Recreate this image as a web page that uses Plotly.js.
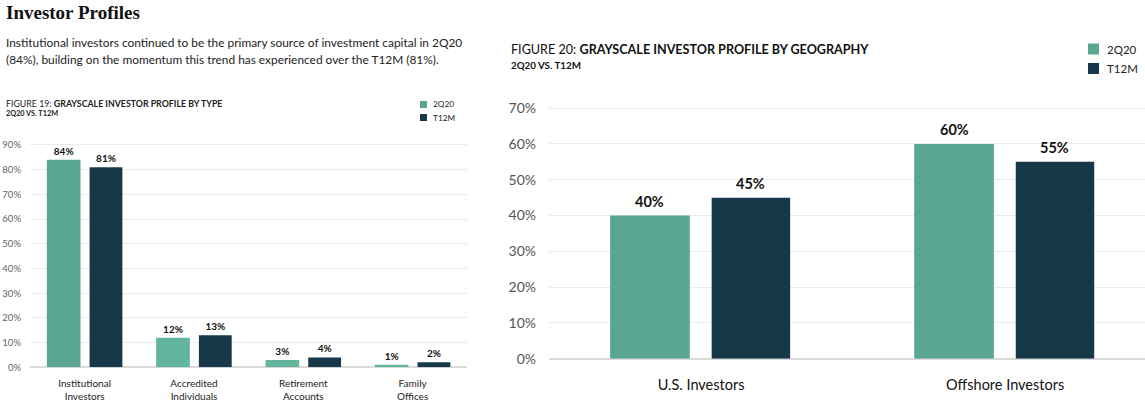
<!DOCTYPE html>
<html><head><meta charset="utf-8">
<script src="https://cdn.plot.ly/plotly-3.0.1.min.js"></script>
<style>html,body{margin:0;padding:0;background:#fff;overflow:hidden;width:1145px;height:412px}#chart{width:1145px;height:412px;display:block}</style>
</head><body><div id="chart"></div>
<script>
// Figure 19 data
const typeCategories = ['Institutional<br>Investors', 'Accredited<br>Individuals', 'Retirement<br>Accounts', 'Family<br>Offices'];
const type2Q20 = [84, 12, 3, 1];
const typeT12M = [81, 13, 4, 2];
// Figure 20 data
const geoCategories = ['U.S. Investors', 'Offshore Investors'];
const geo2Q20 = [40, 60];
const geoT12M = [45, 55];
const seriesNames = ['2Q20', 'T12M'];

const W = 1145, H = 412;
const GREEN = '#5ba690', GREEN_LIGHT = '#62b69e', NAVY = '#163848';
const FONT = 'Lato, "Noto Sans", sans-serif';
const px = x => x / W, py = y => 1 - y / H;

// right chart geometry (styles)
const X2_START = 549, X2_RANGE = [-0.5, 1.46];
const unit2 = (W - X2_START) / (X2_RANGE[1] - X2_RANGE[0]);
const geoBar = [{width:0.262, offset:-0.299}, {width:0.258, offset:0.035}];

const traces = [
  {type:'bar', x:typeCategories, y:type2Q20, name:seriesNames[0], xaxis:'x', yaxis:'y',
   marker:{color:[GREEN, GREEN_LIGHT, GREEN_LIGHT, GREEN_LIGHT]}, width:0.308, offset:-0.346,
   texttemplate:'%{y}', textposition:'outside', cliponaxis:false,
   textfont:{family:FONT, size:10, color:'#111', weight:'bold'}},
  {type:'bar', x:typeCategories, y:typeT12M, name:seriesNames[1], xaxis:'x', yaxis:'y',
   marker:{color:NAVY}, width:0.30, offset:0.045,
   texttemplate:'%{y}', textposition:'outside', cliponaxis:false,
   textfont:{family:FONT, size:10, color:'#111', weight:'bold'}},
  {type:'bar', x:geoCategories, y:geo2Q20, name:seriesNames[0], xaxis:'x2', yaxis:'y2',
   marker:{color:GREEN}, width:geoBar[0].width, offset:geoBar[0].offset},
  {type:'bar', x:geoCategories, y:geoT12M, name:seriesNames[1], xaxis:'x2', yaxis:'y2',
   marker:{color:NAVY}, width:geoBar[1].width, offset:geoBar[1].offset}
];

const ann = (x, y, text, size, color='#111', family=FONT) => ({
  xref:'paper', yref:'paper', x:px(x), y:py(y), xanchor:'left', yanchor:'middle',
  text, showarrow:false, font:{family, size, color}
});
const square = (x0, y0, s, color) => ({
  type:'rect', xref:'paper', yref:'paper', x0:px(x0), x1:px(x0 + s), y0:py(y0 + s), y1:py(y0),
  fillcolor:color, line:{width:0}
});

// value labels for the right chart, placed at each bar through the axis scales
const geoLabels = [];
[geo2Q20, geoT12M].forEach((vals, s) => {
  vals.forEach((v, i) => geoLabels.push({
    xref:'x2', yref:'y2', x:geoCategories[i], y:v, xanchor:'center', yanchor:'middle',
    xshift:(geoBar[s].offset + geoBar[s].width / 2) * unit2, yshift:14,
    text:'<b>' + v + '%</b>', showarrow:false, font:{family:FONT, size:14.5, color:'#111'}
  }));
});

const layout = {
  width:W, height:H, margin:{l:0,r:0,t:0,b:0}, showlegend:false,
  paper_bgcolor:'#fff', plot_bgcolor:'#fff', font:{family:FONT},
  xaxis:{domain:[px(30), px(467.3)], range:[-0.5, 3.5], type:'category', showgrid:false, zeroline:false,
    tickfont:{family:FONT, size:10, color:'#222'}, ticks:'', ticklabelstandoff:9},
  yaxis:{domain:[py(367.3), py(140)], range:[0, 92], dtick:10, ticksuffix:'%', showgrid:true, gridcolor:'#ebebeb',
    zeroline:true, zerolinecolor:'#dadada', zerolinewidth:2,
    tickfont:{family:FONT, size:9.5, color:'#666'}, ticklabelstandoff:8},
  xaxis2:{domain:[px(X2_START), 1], range:X2_RANGE, type:'category', showgrid:false, zeroline:false,
    tickfont:{family:FONT, size:14.5, color:'#111'}, ticks:'', ticklabelstandoff:7},
  yaxis2:{domain:[py(358.7), py(101)], range:[0, 72], dtick:10, ticksuffix:'%', showgrid:true, gridcolor:'#ebebeb',
    zeroline:true, zerolinecolor:'#dadada', zerolinewidth:2, anchor:'x2',
    tickfont:{family:FONT, size:14, color:'#555'}, ticklabelstandoff:12},
  shapes:[
    square(420, 101, 7, GREEN), square(420, 114, 7, NAVY),
    square(1088, 43.5, 11, GREEN), square(1088, 63, 11, NAVY)
  ],
  annotations:[
    ann(4, 13, '<b>Investor Profiles</b>', 19, '#111', '"Liberation Serif", "DejaVu Serif", serif'),
    ann(4, 43, 'Institutional investors continued to be the primary source of investment capital in 2Q20', 11.9, '#222'),
    ann(4, 59, '(84%), building on the momentum this trend has experienced over the T12M (81%).', 11.9, '#222'),
    ann(4, 103, 'FIGURE 19: <b>GRAYSCALE INVESTOR PROFILE BY TYPE</b>', 8.8, '#222'),
    ann(4, 113, '<b>2Q20 VS. T12M</b>', 7.3, '#222'),
    ann(509, 50, 'FIGURE 20: <b>GRAYSCALE INVESTOR PROFILE BY GEOGRAPHY</b>', 12.6),
    ann(509, 65, '<b>2Q20 VS. T12M</b>', 9.8),
    ann(431, 104, seriesNames[0], 8.3, '#222'),
    ann(431, 118, seriesNames[1], 8.3, '#222'),
    ann(1105, 49.3, seriesNames[0], 11.5, '#222'),
    ann(1105, 68.3, seriesNames[1], 11.5, '#222')
  ].concat(geoLabels)
};

Plotly.newPlot('chart', traces, layout, {displayModeBar:false, staticPlot:true});
</script></body></html>
